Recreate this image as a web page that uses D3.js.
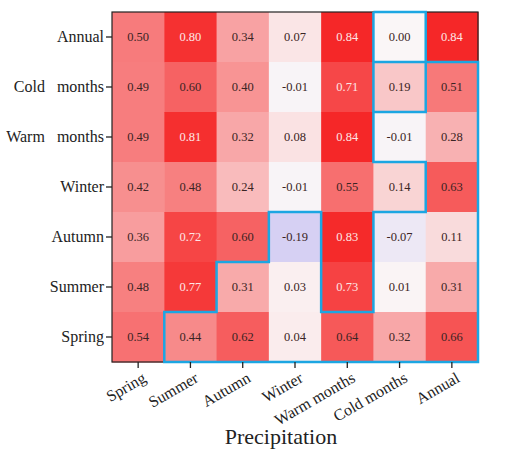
<!DOCTYPE html>
<html>
<head>
<meta charset="utf-8">
<script src="https://cdn.jsdelivr.net/npm/d3@7"></script>
<style>
  body { margin: 0; background: #fff; }
  text { font-family: "Liberation Serif", "DejaVu Serif", serif; }
</style>
</head>
<body>
<div id="chart"></div>
<script>
// categories
var colNames = ["Spring", "Summer", "Autumn", "Winter", "Warm months", "Cold months", "Annual"];
var rowNames = ["Annual", "Cold   months", "Warm   months", "Winter", "Autumn", "Summer", "Spring"];

// correlation values, one array per row (top to bottom)
var rowAnnual = [0.50, 0.80, 0.34, 0.07, 0.84, 0.00, 0.84];
var rowCold   = [0.49, 0.60, 0.40, -0.01, 0.71, 0.19, 0.51];
var rowWarm   = [0.49, 0.81, 0.32, 0.08, 0.84, -0.01, 0.28];
var rowWinter = [0.42, 0.48, 0.24, -0.01, 0.55, 0.14, 0.63];
var rowAutumn = [0.36, 0.72, 0.60, -0.19, 0.83, -0.07, 0.11];
var rowSummer = [0.48, 0.77, 0.31, 0.03, 0.73, 0.01, 0.31];
var rowSpring = [0.54, 0.44, 0.62, 0.04, 0.64, 0.32, 0.66];
var rowValues = [rowAnnual, rowCold, rowWarm, rowWinter, rowAutumn, rowSummer, rowSpring];

// highlighted boundary, as grid corners [column edge, row edge]
var outline = [[5,0],[6,0],[6,1],[7,1],[7,7],[1,7],[1,6],[2,6],[2,5],[3,5],[3,4],[4,4],[4,6],[5,6],[5,4],[6,4],[6,3],[5,3],[5,2],[6,2],[6,1],[5,1],[5,0]];
var outlineExtra = [[5,1],[5,2]];

var svgWidth = 508, svgHeight = 449;
var margin = {top: 12, left: 112, right: 30, bottom: 87};
var chartWidth = svgWidth - margin.left - margin.right;
var chartHeight = svgHeight - margin.top - margin.bottom;

var svg = d3.select("#chart").append("svg")
    .attr("width", svgWidth)
    .attr("height", svgHeight);

var chartGroup = svg.append("g")
    .attr("transform", `translate(${margin.left}, ${margin.top})`);

var xScale = d3.scaleBand().domain(colNames).range([0, chartWidth]).padding(0);
var yScale = d3.scaleBand().domain(rowNames).range([0, chartHeight]).padding(0);

var color = d3.scaleLinear()
    .domain([-1, 0, 1])
    .range(["#3a30e0", "#faf6f7", "#f40000"]);

// flatten into cells
var cells = [];
rowValues.forEach(function(vals, r) {
    vals.forEach(function(v, c) {
        cells.push({row: rowNames[r], col: colNames[c], value: v});
    });
});

chartGroup.selectAll("rect.cell")
    .data(cells)
    .enter()
    .append("rect")
    .attr("class", "cell")
    .attr("x", d => xScale(d.col))
    .attr("y", d => yScale(d.row))
    .attr("width", xScale.bandwidth() + 0.5)
    .attr("height", yScale.bandwidth() + 0.5)
    .attr("fill", d => color(d.value));

chartGroup.selectAll("text.val")
    .data(cells)
    .enter()
    .append("text")
    .attr("class", "val")
    .attr("x", d => xScale(d.col) + xScale.bandwidth() / 2)
    .attr("y", d => yScale(d.row) + yScale.bandwidth() / 2)
    .attr("dy", "0.35em")
    .attr("text-anchor", "middle")
    .style("font-size", "12.5px")
    .attr("fill", d => d.value >= 0.7 ? "#fde6e6" : "#3a2424")
    .text(d => d.value.toFixed(2));

// frame
chartGroup.append("rect")
    .attr("width", chartWidth)
    .attr("height", chartHeight)
    .attr("fill", "none")
    .attr("stroke", "#222")
    .attr("stroke-width", 1.2);

// blue outline
function gx(i) { return xScale.range()[0] + i * xScale.bandwidth(); }
function gy(j) { return yScale.range()[0] + j * yScale.bandwidth(); }
var lineGen = d3.line().x(p => gx(p[0])).y(p => gy(p[1]));

chartGroup.append("path")
    .attr("d", lineGen(outline))
    .attr("fill", "none")
    .attr("stroke", "#1ca6e2")
    .attr("stroke-width", 2.5)
    .attr("stroke-linejoin", "miter");
chartGroup.append("path")
    .attr("d", lineGen(outlineExtra))
    .attr("fill", "none")
    .attr("stroke", "#1ca6e2")
    .attr("stroke-width", 2.5);

// y axis
var yAxis = chartGroup.append("g")
    .call(d3.axisLeft(yScale).tickSize(6).tickPadding(2));
yAxis.select(".domain").remove();
yAxis.selectAll("line").attr("stroke", "#222").attr("stroke-width", 1.3);
yAxis.selectAll("text")
    .style("font-size", "16px")
    .style("white-space", "pre")
    .attr("fill", "#222");

// x axis
var xAxis = chartGroup.append("g")
    .attr("transform", `translate(0, ${chartHeight})`)
    .call(d3.axisBottom(xScale).tickSize(6));
xAxis.select(".domain").remove();
xAxis.selectAll("line").attr("stroke", "#222").attr("stroke-width", 1.3);
xAxis.selectAll("text")
    .style("font-size", "16px")
    .attr("fill", "#222")
    .attr("text-anchor", "end")
    .attr("x", 0)
    .attr("y", 0)
    .attr("dy", 0)
    .attr("transform", "translate(9, 19) rotate(-30)");

// x title
svg.append("text")
    .attr("x", 281)
    .attr("y", 444)
    .attr("text-anchor", "middle")
    .style("font-size", "22px")
    .attr("fill", "#222")
    .text("Precipitation");
</script>
</body>
</html>
